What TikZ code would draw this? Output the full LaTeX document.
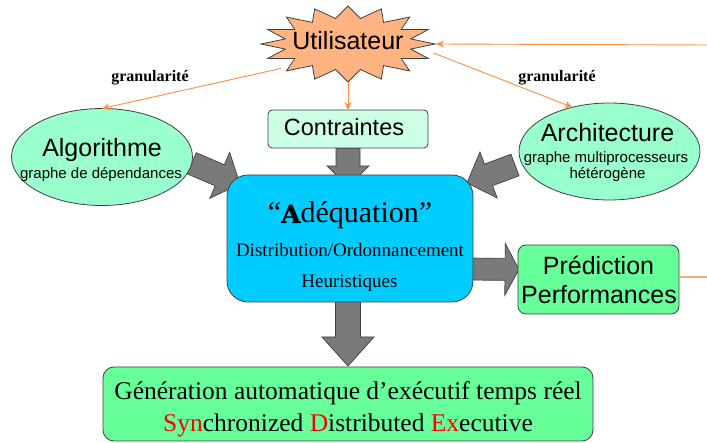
\documentclass[tikz,border=0pt]{standalone}
\usepackage{fontspec}
\setmainfont{Liberation Serif}
\setsansfont{Liberation Sans}
\newfontfamily\slabfont[BoldFeatures={FakeBold=1.2}]{DejaVu Serif}
\usetikzlibrary{calc,shapes.geometric,arrows.meta}
\pgfdeclarelayer{back}
\pgfsetlayers{back,main}

\definecolor{starfill}{HTML}{FFB380}
\definecolor{mint}{HTML}{99FFCC}
\definecolor{palemint}{HTML}{CCFFE6}
\definecolor{cyanbox}{HTML}{00CCFF}
\definecolor{greenbox}{HTML}{66FF99}
\definecolor{linkorange}{HTML}{FF8C40}
\definecolor{paleorange}{HTML}{FFA870}
\definecolor{edgegray}{HTML}{404040}
\definecolor{arrowgray}{HTML}{7A7A7A}
\definecolor{redletter}{HTML}{FF0000}

\newcommand\fs[1]{\fontsize{#1}{#1}\selectfont}

% thick block arrow from #1 to #2: half shaft width #3, half head width #4, head length #5
\newcommand\blockarrow[5]{%
  \path[blockarrowstyle]
    ($(#1)!#3!90:(#2)$)
    -- ($(#2)!#5!(#1)!#3!-90:(#1)$)
    -- ($(#2)!#5!(#1)!#4!-90:(#1)$)
    -- (#2)
    -- ($(#2)!#5!(#1)!#4!90:(#1)$)
    -- ($(#2)!#5!(#1)!#3!90:(#1)$)
    -- ($(#1)!#3!-90:(#2)$)
    -- cycle;}

\begin{document}
\begin{tikzpicture}[x=1pt,y=-1pt,
  every node/.style={inner sep=0pt, outer sep=0pt},
  lbl/.style={anchor=base, inner sep=0pt},
  edged/.style={draw=edgegray, line width=0.8pt},
  ellnode/.style={ellipse, edged, fill=mint},
  contrbox/.style={rectangle, rounded corners=4pt, edged, fill=palemint},
  adeqbox/.style={rectangle, rounded corners=21pt, edged, fill=cyanbox},
  greenrect/.style={rectangle, rounded corners=9pt, edged, fill=greenbox},
  blockarrowstyle/.style={fill=arrowgray, draw=edgegray, line width=0.7pt, line join=miter},
  link/.style={draw=linkorange, line width=0.9pt, -{Stealth[length=8pt,width=7pt]}},
  font=\sffamily]
\useasboundingbox (0,0) rectangle (707,443);

% --- star outline of the user node
\path[fill=starfill, edged, line join=miter]
  plot[variable=\k, samples at={0,...,31}]
  ({348+ifthenelse(iseven(\k),87,64)*cos(\k*11.25)},
   {44+ifthenelse(iseven(\k),38,26)*sin(\k*11.25)}) -- cycle;
\node[ellipse, minimum width=176pt, minimum height=76pt] (user) at (348,44) {};
\node[lbl, font=\sffamily\fs{25}] (user-label) at (348,50) {Utilisateur};

% --- boxes
\node[contrbox, minimum width=160pt, minimum height=38pt] (contr) at (348,129) {};
\node[lbl, font=\sffamily\fs{23.5}] (contr-label) at (344,136) {Contraintes};

\node[ellnode, minimum width=181pt, minimum height=97pt] (algo) at (102,157) {};
\node[lbl, font=\sffamily\fs{25}] (algo-title) at (102,157) {Algorithme};
\node[lbl, font=\sffamily\fs{15}] (algo-sub) at (101,179) {graphe de dépendances};

\node[ellnode, minimum width=181pt, minimum height=97pt] (arch) at (609.5,151.5) {};
\node[lbl, font=\sffamily\fs{25}] (arch-title) at (607.5,142) {Architecture};
\node[lbl, font=\sffamily\fs{15}] (arch-sub1) at (606,163) {graphe multiprocesseurs};
\node[lbl, font=\sffamily\fs{15}] (arch-sub2) at (607.5,179) {hétérogène};

\node[adeqbox, minimum width=246pt, minimum height=127pt] (adeq) at (350,238.5) {};
\node[lbl, font=\rmfamily\fs{30}] (adeq-title) at (350,223) {“{\slabfont\bfseries\fs{25}A}déquation”};
\node[lbl, font=\rmfamily\fs{19}] (adeq-line1) at (350,257) {Distribution/Ordonnancement};
\node[lbl, font=\rmfamily\fs{19}] (adeq-line2) at (349.5,288) {Heuristiques};

\node[greenrect, minimum width=161pt, minimum height=69pt, rounded corners=8pt] (pred) at (598.5,279.5) {};
\node[lbl, font=\sffamily\fs{25}] (pred-line1) at (598.5,275) {Prédiction};
\node[lbl, font=\sffamily\fs{25}] (pred-line2) at (599,304) {Performances};

\node[greenrect, minimum width=490pt, minimum height=74pt, rounded corners=11pt] (gen) at (348,404) {};
\node[lbl, font=\rmfamily\fs{25.5}] (gen-line1) at (348,400) {Génération automatique d’exécutif temps réel};
\node[lbl, font=\rmfamily\fs{25.5}] (gen-line2) at (348,431.5)
  {\textcolor{redletter}{Syn}chronized \textcolor{redletter}{D}istributed \textcolor{redletter}{Ex}ecutive};

% --- edge labels
\node[lbl, font=\rmfamily\bfseries\fs{16}] (gran-left) at (150,82) {granularité};
\node[lbl, font=\rmfamily\bfseries\fs{16}] (gran-right) at (557,82) {granularité};

% --- thin orange links
\coordinate (loop-in) at (707,45);
\coordinate (loop-out) at (707,277);
\draw[link] (user.200) -- (algo.north);
\draw[link] (user.-6) -- (arch.130);
\draw[link] (user.south) -- (contr.north);
\draw[link] (loop-in) -- (user.east);
\draw[draw=paleorange, line width=1.3pt] (pred.east |- loop-out) -- (loop-out);

% --- block arrows behind the boxes
\begin{pgfonlayer}{back}
  \coordinate (ba1s) at (contr.south);
  \coordinate (ba1e) at ($(adeq.north)+(-2,12)$);
  \blockarrow{ba1s}{ba1e}{12pt}{21pt}{21pt}
  \coordinate (ba2s) at (algo.-4);
  \coordinate (ba2e) at ($(adeq.north west)+(13,9)$);
  \blockarrow{ba2s}{ba2e}{11.5pt}{25pt}{22pt}
  \coordinate (ba3s) at ($(arch.west)+(-4,13.5)$);
  \coordinate (ba3e) at ($(adeq.north east)+(-6,8)$);
  \blockarrow{ba3s}{ba3e}{11.5pt}{24.5pt}{23pt}
  \coordinate (ba4s) at ($(adeq.east)+(-6,30.5)$);
  \coordinate (ba4e) at ($(pred.west)+(1,-10)$);
  \blockarrow{ba4s}{ba4e}{11pt}{26pt}{14pt}
  \coordinate (ba5s) at ($(adeq.south)+(-2,-4)$);
  \coordinate (ba5e) at ($(gen.north)+(0,-1)$);
  \blockarrow{ba5s}{ba5e}{12.5pt}{26pt}{29pt}
\end{pgfonlayer}
\end{tikzpicture}
\end{document}
